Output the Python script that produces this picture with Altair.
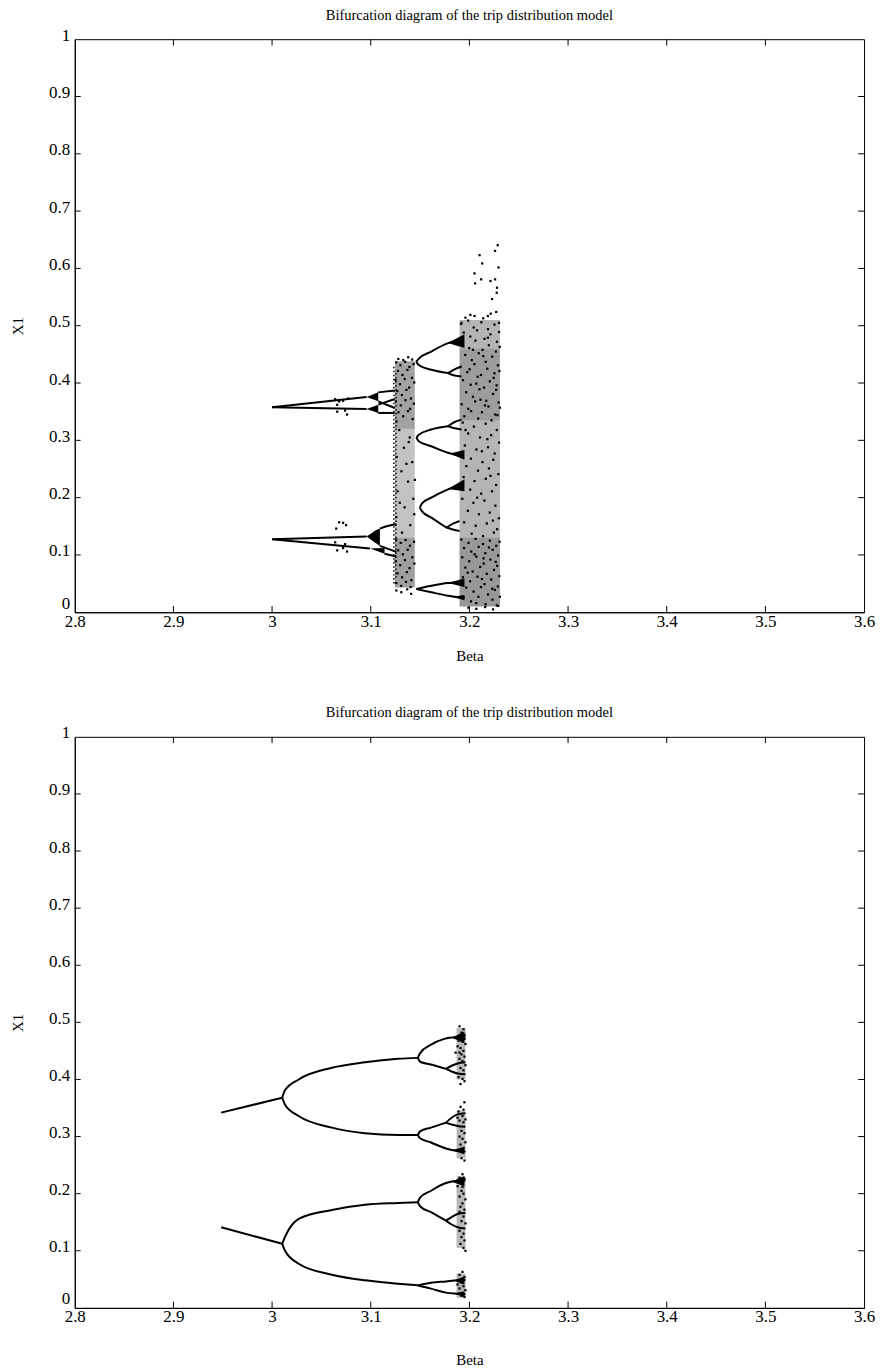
import altair as alt
import pandas as pd

FONT = "Liberation Serif"
TITLE = "Bifurcation diagram of the trip distribution model"
X_TICKS = [2.8, 2.9, 3.0, 3.1, 3.2, 3.3, 3.4, 3.5, 3.6]
Y_TICKS = [0, 0.1, 0.2, 0.3, 0.4, 0.5, 0.6, 0.7, 0.8, 0.9, 1]

# ---------------- TOP PANEL: branches (beta, X1) ----------------
top_up_hi = [(3.000, 0.3576), (3.0958, 0.3757)]
top_up_lo = [(3.000, 0.3576), (3.0958, 0.3548)]
top_up_a = [(3.1076, 0.3837), (3.1244, 0.3871)]
top_up_b = [(3.1076, 0.3680), (3.1244, 0.3565)]
top_up_c = [(3.1076, 0.3623), (3.1244, 0.3722)]
top_up_d = [(3.1076, 0.3478), (3.1244, 0.3478)]
top_lo_hi = [(3.000, 0.1275), (3.0958, 0.1322)]
top_lo_lo = [(3.000, 0.1275), (3.0992, 0.1113)]
top_lo_a = [(3.1093, 0.1460), (3.118, 0.1510), (3.126, 0.1536)]
top_lo_b = [(3.1093, 0.1158), (3.126, 0.1054)]
top_lo_c = [(3.114, 0.1020), (3.126, 0.0974)]
top_w1_hi = [(3.146, 0.437), (3.149, 0.443), (3.1614, 0.455), (3.1783, 0.4696), (3.1917, 0.4753)]
top_w1_lo = [(3.146, 0.437), (3.149, 0.431), (3.1614, 0.4231), (3.1783, 0.4174)]
top_w1_e1 = [(3.1783, 0.4174), (3.185, 0.424), (3.192, 0.4289)]
top_w1_e2 = [(3.1783, 0.4174), (3.185, 0.413), (3.192, 0.4115)]
top_w2_hi = [(3.1463, 0.3043), (3.149, 0.310), (3.1614, 0.3188), (3.1783, 0.3245)]
top_w2_e1 = [(3.1783, 0.3245), (3.185, 0.332), (3.192, 0.3362)]
top_w2_e2 = [(3.1783, 0.3245), (3.185, 0.321), (3.192, 0.3188)]
top_w2_lo = [(3.1463, 0.3043), (3.149, 0.298), (3.1614, 0.2897), (3.1783, 0.2783), (3.192, 0.2723)]
top_w3_hi = [(3.1497, 0.1826), (3.152, 0.190), (3.1614, 0.200), (3.1783, 0.2144), (3.1917, 0.2231)]
top_w3_lo = [(3.1497, 0.1826), (3.152, 0.176), (3.1614, 0.1652), (3.1766, 0.1478)]
top_w3_e1 = [(3.1766, 0.1478), (3.184, 0.155), (3.190, 0.1593)]
top_w3_e2 = [(3.1766, 0.1478), (3.184, 0.144), (3.190, 0.1419)]
top_w4_hi = [(3.1463, 0.0405), (3.1614, 0.0463), (3.1783, 0.051), (3.190, 0.052)]
top_w4_lo = [(3.1463, 0.0405), (3.1614, 0.0348), (3.1783, 0.0289), (3.190, 0.026)]

# fans (dense wedges): (beta, low, high)
top_fan_1 = [(3.0958, 0.3757, 0.3757), (3.1076, 0.3680, 0.3837)]
top_fan_2 = [(3.0958, 0.3548, 0.3548), (3.1076, 0.3478, 0.3623)]
top_fan_3 = [(3.0958, 0.1322, 0.1322), (3.100, 0.127, 0.137), (3.105, 0.121, 0.143), (3.1093, 0.1158, 0.146)]
top_fan_4 = [(3.0992, 0.1113, 0.1113), (3.114, 0.102, 0.112)]
top_fan_5 = [(3.178, 0.470, 0.470), (3.195, 0.461, 0.485)]
top_fan_6 = [(3.180, 0.277, 0.277), (3.195, 0.266, 0.283)]
top_fan_7 = [(3.178, 0.215, 0.215), (3.195, 0.211, 0.232)]
top_fan_8 = [(3.178, 0.051, 0.051), (3.195, 0.044, 0.059)]
top_fan_9 = [(3.182, 0.027, 0.027), (3.195, 0.021, 0.030)]

# chaotic band tone: (beta0, beta1, x0, x1, density)
top_bands = [
    (3.1245, 3.1446, 0.043, 0.438, 0.24),
    (3.1245, 3.1446, 0.320, 0.438, 0.16),
    (3.1245, 3.1446, 0.043, 0.130, 0.18),
    (3.190, 3.231, 0.010, 0.510, 0.29),
    (3.190, 3.231, 0.335, 0.460, 0.13),
    (3.190, 3.231, 0.010, 0.130, 0.16),
]
# dotted columns at the left edge of the first chaotic band: (beta, x0, x1)
top_dotted = [(3.1235, 0.050, 0.430), (3.1255, 0.060, 0.420)]

# scattered iterates (beta, X1)
top_dots_outer = [
    (3.2287, 0.6405), (3.226, 0.6306), (3.2103, 0.6231), (3.213, 0.6087), (3.2295, 0.6017),
    (3.2052, 0.5913), (3.2119, 0.5809), (3.2214, 0.578), (3.226, 0.5809), (3.2058, 0.5739),
    (3.228, 0.5663), (3.2277, 0.5576), (3.223, 0.5466), (3.2052, 0.517), (3.2187, 0.517),
    (3.2216, 0.521), (3.2272, 0.524), (3.196, 0.514), (3.201, 0.519), (3.214, 0.513),
    (3.192, 0.505), (3.230, 0.505), (3.199, 0.008), (3.207, 0.006), (3.216, 0.009),
    (3.224, 0.005), (3.229, 0.011),
    (3.128, 0.442), (3.133, 0.440), (3.138, 0.445), (3.142, 0.441), (3.126, 0.038),
    (3.131, 0.035), (3.137, 0.040), (3.141, 0.032),
    (3.064, 0.372), (3.066, 0.350), (3.068, 0.368), (3.072, 0.369), (3.074, 0.352),
    (3.076, 0.345), (3.077, 0.373), (3.066, 0.362),
    (3.064, 0.122), (3.066, 0.108), (3.072, 0.112), (3.074, 0.119), (3.076, 0.106),
    (3.068, 0.157), (3.072, 0.156), (3.075, 0.152), (3.065, 0.146),
]
top_dots_band2_hi = [
    (3.1915, 0.503), (3.1987, 0.509), (3.2043, 0.497), (3.2121, 0.506), (3.2188, 0.494), (3.2254, 0.502),
    (3.2301, 0.489), (3.1942, 0.488), (3.2009, 0.481), (3.2077, 0.492), (3.2152, 0.477), (3.2213, 0.485),
    (3.2279, 0.472), (3.1926, 0.469), (3.1998, 0.461), (3.2061, 0.474), (3.2134, 0.458), (3.2197, 0.466),
    (3.2268, 0.455), (3.2307, 0.463), (3.1958, 0.449), (3.2024, 0.440), (3.2095, 0.452), (3.2166, 0.437),
    (3.2231, 0.446), (3.2289, 0.431), (3.1911, 0.428), (3.1979, 0.419), (3.2051, 0.433), (3.2117, 0.414),
    (3.2182, 0.425), (3.2246, 0.409), (3.2304, 0.421), (3.1935, 0.405), (3.2013, 0.397), (3.2083, 0.411),
    (3.2148, 0.392), (3.2207, 0.403), (3.2271, 0.388), (3.1967, 0.384), (3.2036, 0.376), (3.2102, 0.389),
    (3.2171, 0.369), (3.2239, 0.381), (3.2296, 0.366), (3.1921, 0.363), (3.1989, 0.355), (3.2058, 0.368),
    (3.2127, 0.349), (3.2193, 0.359), (3.2262, 0.345), (3.2309, 0.357), (3.1948, 0.342), (3.2017, 0.351),
    (3.2089, 0.338), (3.2158, 0.361), (3.2224, 0.335), (3.2285, 0.344), (3.2002, 0.424), (3.2141, 0.447),
    (3.2069, 0.399), (3.2254, 0.417), (3.2112, 0.371), (3.2036, 0.458), (3.2187, 0.479), (3.2276, 0.396),
]
top_dots_band2_mid = [
    (3.1932, 0.331), (3.2046, 0.324), (3.2165, 0.329), (3.2278, 0.318), (3.1987, 0.312), (3.2108, 0.305),
    (3.2221, 0.309), (3.2301, 0.296), (3.1954, 0.291), (3.2071, 0.284), (3.2189, 0.288), (3.2256, 0.277),
    (3.2015, 0.268), (3.2133, 0.262), (3.2242, 0.266), (3.1969, 0.255), (3.2087, 0.247), (3.2198, 0.251),
    (3.2294, 0.241), (3.1941, 0.236), (3.2052, 0.229), (3.2166, 0.233), (3.2271, 0.222), (3.2008, 0.214),
    (3.2119, 0.207), (3.2229, 0.211), (3.1928, 0.198), (3.2041, 0.191), (3.2152, 0.195), (3.2263, 0.186),
    (3.1985, 0.177), (3.2097, 0.171), (3.2206, 0.174), (3.2299, 0.164), (3.1947, 0.157), (3.2064, 0.151),
    (3.2177, 0.155), (3.2281, 0.145), (3.2023, 0.137), (3.2139, 0.133), (3.2248, 0.139), (3.1961, 0.318),
    (3.2126, 0.281), (3.2214, 0.238), (3.2079, 0.200), (3.2238, 0.160), (3.2182, 0.302),
]
top_dots_band2_lo = [
    (3.1918, 0.127), (3.1991, 0.121), (3.2063, 0.128), (3.2138, 0.119), (3.2207, 0.125), (3.2272, 0.116),
    (3.2306, 0.123), (3.1946, 0.112), (3.2019, 0.106), (3.2094, 0.114), (3.2161, 0.103), (3.2236, 0.109),
    (3.2291, 0.099), (3.1927, 0.096), (3.1998, 0.089), (3.2071, 0.097), (3.2145, 0.085), (3.2213, 0.092),
    (3.2281, 0.081), (3.1959, 0.078), (3.2033, 0.071), (3.2109, 0.079), (3.2176, 0.067), (3.2249, 0.074),
    (3.2303, 0.063), (3.1934, 0.061), (3.2007, 0.054), (3.2081, 0.062), (3.2153, 0.049), (3.2222, 0.057),
    (3.2288, 0.045), (3.1968, 0.043), (3.2042, 0.036), (3.2117, 0.044), (3.2189, 0.031), (3.2258, 0.039),
    (3.2309, 0.027), (3.1941, 0.025), (3.2016, 0.019), (3.2092, 0.027), (3.2164, 0.014), (3.2234, 0.022),
    (3.2279, 0.012), (3.2054, 0.101), (3.2198, 0.113), (3.2127, 0.058), (3.2267, 0.088), (3.1983, 0.069),
    (3.2231, 0.041), (3.2069, 0.016), (3.2143, 0.094),
]
top_dots_band1 = [
    (3.1258, 0.436), (3.1301, 0.431), (3.1349, 0.437), (3.1392, 0.428), (3.1434, 0.433), (3.1276, 0.421),
    (3.1322, 0.414), (3.1371, 0.423), (3.1418, 0.409), (3.1251, 0.405), (3.1297, 0.398), (3.1344, 0.407),
    (3.1389, 0.392), (3.1441, 0.401), (3.1269, 0.386), (3.1316, 0.379), (3.1362, 0.388), (3.1408, 0.373),
    (3.1254, 0.368), (3.1305, 0.361), (3.1352, 0.370), (3.1399, 0.355), (3.1437, 0.364), (3.1281, 0.349),
    (3.1329, 0.342), (3.1378, 0.351), (3.1425, 0.337), (3.1262, 0.333),
    (3.1289, 0.318), (3.1395, 0.305), (3.1336, 0.287), (3.1263, 0.271), (3.1421, 0.262), (3.1311, 0.246),
    (3.1378, 0.228), (3.1272, 0.211), (3.1432, 0.198), (3.1343, 0.183), (3.1259, 0.166), (3.1401, 0.152),
    (3.1317, 0.139), (3.1385, 0.297), (3.1448, 0.231), (3.1294, 0.191), (3.1362, 0.259), (3.1441, 0.171),
    (3.1257, 0.127), (3.1304, 0.121), (3.1353, 0.126), (3.1398, 0.116), (3.1439, 0.123), (3.1279, 0.108),
    (3.1326, 0.101), (3.1374, 0.109), (3.1421, 0.096), (3.1252, 0.089), (3.1299, 0.082), (3.1347, 0.091),
    (3.1393, 0.077), (3.1443, 0.085), (3.1271, 0.068), (3.1318, 0.061), (3.1366, 0.070), (3.1412, 0.056),
    (3.1259, 0.051), (3.1308, 0.046), (3.1357, 0.053), (3.1404, 0.044),
]

# ---------------- BOTTOM PANEL ----------------
bot_a = [(2.9484, 0.3419), (3.0103, 0.368)]
bot_a_hi = [(3.0103, 0.368), (3.013, 0.381), (3.027, 0.400), (3.0606, 0.4204), (3.0942, 0.4301), (3.1276, 0.4361), (3.1477, 0.4378)]
bot_a_lo = [(3.0103, 0.368), (3.013, 0.3563), (3.027, 0.336), (3.0606, 0.3157), (3.0942, 0.3058), (3.1276, 0.3028), (3.1477, 0.3028)]
bot_b = [(2.9484, 0.1413), (3.0103, 0.1122)]
bot_b_hi = [(3.0103, 0.1122), (3.013, 0.1238), (3.027, 0.1558), (3.0606, 0.1715), (3.0942, 0.1807), (3.1276, 0.1837), (3.1477, 0.185)]
bot_b_lo = [(3.0103, 0.1122), (3.013, 0.1005), (3.027, 0.0773), (3.0606, 0.0581), (3.0942, 0.0482), (3.1276, 0.0424), (3.1477, 0.0394)]
bot_c1_hi = [(3.1477, 0.4378), (3.150, 0.446), (3.1611, 0.461), (3.1746, 0.471), (3.188, 0.4744), (3.196, 0.475)]
bot_c1_lo = [(3.1477, 0.4378), (3.150, 0.431), (3.1611, 0.4261), (3.1762, 0.4186)]
bot_c1_e1 = [(3.1762, 0.4186), (3.182, 0.424), (3.188, 0.4279), (3.196, 0.430)]
bot_c1_e2 = [(3.1762, 0.4186), (3.182, 0.414), (3.188, 0.4104), (3.196, 0.409)]
bot_c2_hi = [(3.1477, 0.3028), (3.150, 0.309), (3.1611, 0.3157), (3.1762, 0.3244)]
bot_c2_e1 = [(3.1762, 0.3244), (3.182, 0.333), (3.188, 0.3389), (3.196, 0.341)]
bot_c2_e2 = [(3.1762, 0.3244), (3.182, 0.321), (3.188, 0.3185), (3.196, 0.317)]
bot_c2_lo = [(3.1477, 0.3028), (3.150, 0.297), (3.1611, 0.2896), (3.1762, 0.2791), (3.188, 0.2749), (3.196, 0.274)]
bot_c3_hi = [(3.1477, 0.185), (3.150, 0.193), (3.1611, 0.2051), (3.1762, 0.2186), (3.188, 0.2226), (3.196, 0.223)]
bot_c3_lo = [(3.1477, 0.185), (3.150, 0.178), (3.1611, 0.1675), (3.1762, 0.1528)]
bot_c3_e1 = [(3.1762, 0.1528), (3.182, 0.159), (3.188, 0.1645), (3.196, 0.166)]
bot_c3_e2 = [(3.1762, 0.1528), (3.182, 0.146), (3.188, 0.1413), (3.196, 0.139)]
bot_c4_hi = [(3.1477, 0.0394), (3.1611, 0.0441), (3.1762, 0.0464), (3.188, 0.0482), (3.196, 0.049)]
bot_c4_lo = [(3.1477, 0.0394), (3.1611, 0.0337), (3.1762, 0.0267), (3.188, 0.0249), (3.196, 0.024)]

bot_fan_1 = [(3.182, 0.473, 0.473), (3.195, 0.464, 0.484)]
bot_fan_2 = [(3.182, 0.276, 0.276), (3.195, 0.269, 0.282)]
bot_fan_3 = [(3.182, 0.221, 0.221), (3.195, 0.213, 0.231)]
bot_fan_4 = [(3.184, 0.048, 0.048), (3.195, 0.041, 0.055)]
bot_fan_5 = [(3.184, 0.025, 0.025), (3.195, 0.019, 0.029)]

bot_bands = [
    (3.187, 3.196, 0.400, 0.490, 0.28),
    (3.187, 3.196, 0.262, 0.345, 0.28),
    (3.187, 3.196, 0.105, 0.230, 0.28),
    (3.187, 3.196, 0.018, 0.060, 0.30),
]
bot_dotted = []

bot_dots = [
    (3.190, 0.493), (3.194, 0.488), (3.192, 0.482), (3.195, 0.478), (3.189, 0.468), (3.193, 0.466),
    (3.196, 0.462), (3.191, 0.455), (3.194, 0.450), (3.186, 0.447), (3.192, 0.444), (3.195, 0.440),
    (3.190, 0.436), (3.193, 0.432), (3.196, 0.425), (3.191, 0.420), (3.194, 0.416), (3.189, 0.404),
    (3.193, 0.401), (3.195, 0.397), (3.191, 0.392), (3.188, 0.458), (3.195, 0.471), (3.190, 0.447),
    (3.195, 0.360), (3.191, 0.352), (3.194, 0.347), (3.189, 0.344), (3.193, 0.336), (3.196, 0.330),
    (3.190, 0.328), (3.194, 0.325), (3.192, 0.310), (3.195, 0.306), (3.190, 0.300), (3.193, 0.296),
    (3.196, 0.290), (3.191, 0.286), (3.194, 0.280), (3.192, 0.262), (3.195, 0.258), (3.188, 0.333),
    (3.193, 0.234), (3.190, 0.228), (3.195, 0.226), (3.192, 0.205), (3.194, 0.200), (3.190, 0.195),
    (3.196, 0.190), (3.193, 0.183), (3.191, 0.177), (3.195, 0.172), (3.190, 0.168), (3.194, 0.160),
    (3.192, 0.152), (3.196, 0.148), (3.190, 0.135), (3.194, 0.130), (3.192, 0.124), (3.195, 0.118),
    (3.191, 0.112), (3.194, 0.105), (3.196, 0.100), (3.188, 0.213), (3.193, 0.212),
    (3.193, 0.063), (3.190, 0.058), (3.195, 0.054), (3.192, 0.044), (3.194, 0.038), (3.190, 0.034),
    (3.196, 0.031), (3.192, 0.021), (3.195, 0.019), (3.188, 0.041),
]

TOP_LINES = [top_up_hi, top_up_lo, top_up_a, top_up_b, top_up_c, top_up_d, top_lo_hi, top_lo_lo,
             top_lo_a, top_lo_b, top_lo_c, top_w1_hi, top_w1_lo, top_w1_e1, top_w1_e2, top_w2_hi,
             top_w2_e1, top_w2_e2, top_w2_lo, top_w3_hi, top_w3_lo, top_w3_e1, top_w3_e2,
             top_w4_hi, top_w4_lo]
TOP_FANS = [top_fan_1, top_fan_2, top_fan_3, top_fan_4, top_fan_5, top_fan_6, top_fan_7, top_fan_8, top_fan_9]
TOP_DOTS = top_dots_outer + top_dots_band2_hi + top_dots_band2_mid + top_dots_band2_lo + top_dots_band1
BOT_LINES = [bot_a, bot_a_hi, bot_a_lo, bot_b, bot_b_hi, bot_b_lo, bot_c1_hi, bot_c1_lo, bot_c1_e1,
             bot_c1_e2, bot_c2_hi, bot_c2_e1, bot_c2_e2, bot_c2_lo, bot_c3_hi, bot_c3_lo, bot_c3_e1,
             bot_c3_e2, bot_c4_hi, bot_c4_lo]
BOT_FANS = [bot_fan_1, bot_fan_2, bot_fan_3, bot_fan_4, bot_fan_5]


def lines_frame(branches):
    rows = []
    for k, pts in enumerate(branches):
        for i, (b, x) in enumerate(pts):
            rows.append({"id": k, "o": i, "beta": b, "x1": x})
    return pd.DataFrame(rows)


def panel(lines, fans, bands, dotted, dots, h, xtitle_pad):
    xs = alt.Scale(domain=[2.8, 3.6], nice=False, zero=False)
    ys = alt.Scale(domain=[0, 1], nice=False, zero=False)
    xaxis = alt.Axis(values=X_TICKS, format="~g", ticks=False, grid=False, title="Beta",
                     titlePadding=xtitle_pad, labelPadding=1, labelFont=FONT, labelFontSize=17,
                     titleFont=FONT, titleFontSize=15, titleFontWeight="normal",
                     labelColor="black", titleColor="black", domainColor="black", labelFlush=False)
    yaxis = alt.Axis(values=Y_TICKS, format="~g", ticks=False, grid=False, title="X1",
                     titlePadding=23, labelPadding=5,
                     labelOffset={"condition": {"test": "datum.value === 0", "value": -9}, "value": -4},
                     labelFont=FONT, labelFontSize=17,
                     titleFont=FONT, titleFontSize=15, titleFontWeight="normal",
                     labelColor="black", titleColor="black", domainColor="black", labelFlush=False)

    def X(f):
        return alt.X(f, type="quantitative", scale=xs, axis=xaxis)

    def Y(f):
        return alt.Y(f, type="quantitative", scale=ys, axis=yaxis)

    tl_x = 0.006
    tl_y = 0.011
    xt = pd.DataFrame([{"t": t, "a": 0, "b": tl_y} for t in X_TICKS[1:-1]] +
                      [{"t": t, "a": 1, "b": 1 - tl_y} for t in X_TICKS[1:-1]])
    yt = pd.DataFrame([{"t": t, "a": 2.8, "b": 2.8 + tl_x} for t in Y_TICKS[1:-1]] +
                      [{"t": t, "a": 3.6, "b": 3.6 - tl_x} for t in Y_TICKS[1:-1]])

    layers = []
    layers.append(alt.Chart(xt).mark_rule(color="black", strokeWidth=1).encode(
        x=X("t"), y=Y("a"), y2="b"))
    layers.append(alt.Chart(yt).mark_rule(color="black", strokeWidth=1).encode(
        y=Y("t"), x=X("a"), x2="b"))

    bdf = pd.DataFrame(bands, columns=["b0", "b1", "x0", "x1", "d"])
    layers.append(alt.Chart(bdf).mark_rect(color="black").encode(
        x=X("b0"), x2="b1", y=Y("x0"), y2="x1",
        opacity=alt.Opacity("d:Q", scale=None, legend=None)))

    if dotted:
        ddf = pd.DataFrame(dotted, columns=["b", "x0", "x1"])
        layers.append(alt.Chart(ddf).mark_rule(color="black", strokeWidth=1.5,
                                               strokeDash=[1.5, 2.5]).encode(
            x=X("b"), y=Y("x0"), y2="x1"))

    for fan in fans:
        fdf = pd.DataFrame(fan, columns=["beta", "lo", "hi"])
        layers.append(alt.Chart(fdf).mark_area(color="black", opacity=1, orient="vertical").encode(
            x=X("beta"), y=Y("lo"), y2="hi"))

    layers.append(alt.Chart(lines_frame(lines)).mark_line(
        color="black", strokeWidth=2, interpolate="monotone").encode(
        x=X("beta"), y=Y("x1"), detail="id:N", order="o:Q"))

    pdf = pd.DataFrame(dots, columns=["beta", "x1"])
    layers.append(alt.Chart(pdf).mark_square(color="black", size=5, opacity=1).encode(
        x=X("beta"), y=Y("x1")))

    return alt.layer(*layers).properties(
        width=792, height=h,
        title=alt.TitleParams(TITLE, font=FONT, fontSize=14.5, fontWeight="normal",
                              anchor="middle", offset=3, color="black"))


top = panel(TOP_LINES, TOP_FANS, top_bands, top_dotted, TOP_DOTS, 575, 19)
bottom = panel(BOT_LINES, BOT_FANS, bot_bands, bot_dotted, bot_dots, 573, 28)

chart = alt.vconcat(top, bottom, spacing=41).properties(
    padding={"left": 10, "top": 5, "right": 5, "bottom": 0},
    background="white",
).configure_view(stroke="black", strokeWidth=1)

chart.save("out.html", embed_options={"renderer": "svg", "actions": False})
